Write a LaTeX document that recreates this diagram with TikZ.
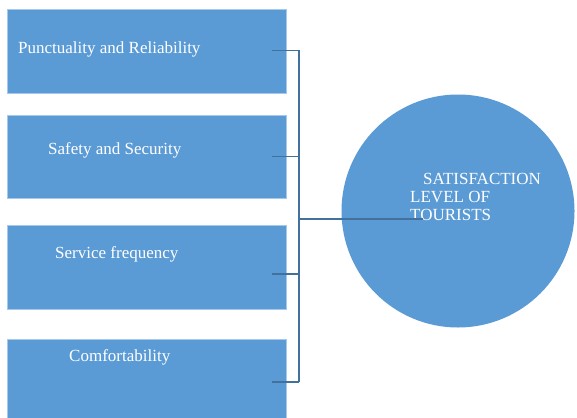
\documentclass[tikz,border=0pt]{standalone}
\usepackage{fontspec}
\setmainfont{Liberation Serif}
\usepackage{xcolor}
\usetikzlibrary{positioning}
\definecolor{boxblue}{HTML}{5B9BD5}
\definecolor{edgeblue}{HTML}{A6C8EA}
\definecolor{lineblue}{HTML}{41719C}
\tikzset{
    factor/.style={
           rectangle,
           fill=boxblue,
           draw=edgeblue, line width=0.8pt,
           minimum width=279pt,
           minimum height=84pt,
           inner sep=0pt,
           },
    goal/.style={
           circle,
           fill=boxblue,
           minimum size=233pt,
           inner sep=0pt,
           },
    caption/.style={
           text=white,
           font=\fontsize{17}{18}\selectfont,
           inner sep=0pt,
           },
    link/.style={draw=lineblue, line width=1.4pt},
}

\begin{document}
\begin{tikzpicture}[x=1pt, y=-1pt]
	\useasboundingbox (0,0) rectangle (577,417);

	% the four factor boxes
	\node[factor, anchor=north west] (punct) at (7,9) {};
	\node[factor, below=21pt of punct, minimum height=83pt] (safety) {};
	\node[factor, below=26pt of safety] (service) {};
	\node[factor, below=30pt of service, minimum height=82pt] (comfort) {};

	\node[caption, anchor=base west] (punct-t) at ([shift={(11,45)}]punct.north west) {Punctuality and Reliability};
	\node[caption, anchor=base west] (safety-t) at ([shift={(41,40)}]safety.north west) {Safety and Security};
	\node[caption, anchor=base west] (service-t) at ([shift={(48,34)}]service.north west) {Service frequency};
	\node[caption, anchor=base west] (comfort-t) at ([shift={(62,22)}]comfort.north west) {Comfortability};

	% result circle
	\node[goal] (sat) at (458,211) {};
	\node[caption, anchor=base west] (sat-t) at (410,184) {
		\begin{tabular}[t]{@{}l@{}}
		\hspace{13pt}SATISFACTION\\
		LEVEL OF\\
		TOURISTS
		\end{tabular}
	};

	% bracket joining the boxes
	\coordinate (bar-top) at ([shift={(12,-1)}]punct.east);
	\coordinate (bar-bot) at ([shift={(12,1)}]comfort.east);
	\coordinate (hub) at (298,219);
	\coordinate (tip) at (423,219);

	\path[link]	([shift={(-15,-1)}]punct.east) edge (bar-top)
				([shift={(-15,0)}]safety.east) edge ([shift={(12,0)}]safety.east)
				([shift={(-15,7)}]service.east) edge ([shift={(12,7)}]service.east)
				([shift={(-15,1)}]comfort.east) edge (bar-bot);
	\path[link]	(bar-top) edge (bar-bot);
	\path[link]	(hub) edge (tip);

\end{tikzpicture}
\end{document}
